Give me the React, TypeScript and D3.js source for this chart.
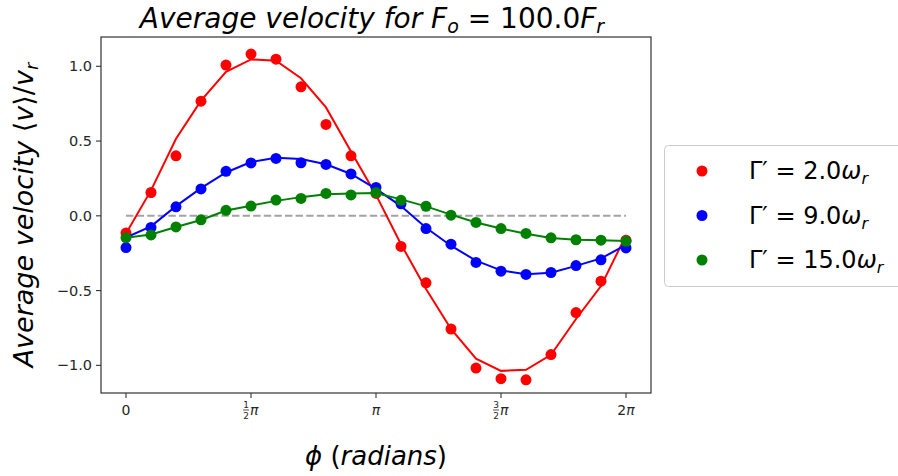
import React from "react";
import * as d3 from "d3";

const phiOverPi = [0, 0.1, 0.2, 0.3, 0.4, 0.5, 0.6, 0.7, 0.8, 0.9, 1.0, 1.1, 1.2, 1.3, 1.4, 1.5, 1.6, 1.7, 1.8, 1.9, 2.0];

const redPoints = [-0.115, 0.156, 0.401, 0.767, 1.008, 1.082, 1.048, 0.863, 0.611, 0.401, 0.15, -0.205, -0.448, -0.757, -1.018, -1.089, -1.097, -0.928, -0.647, -0.437, -0.163];
const redLine = [-0.118, 0.17, 0.515, 0.77, 0.963, 1.046, 1.037, 0.92, 0.725, 0.43, 0.14, -0.19, -0.49, -0.757, -0.955, -1.037, -1.03, -0.93, -0.69, -0.47, -0.13];

const bluePoints = [-0.212, -0.078, 0.06, 0.18, 0.298, 0.354, 0.384, 0.355, 0.344, 0.28, 0.19, 0.08, -0.085, -0.19, -0.312, -0.37, -0.392, -0.379, -0.333, -0.294, -0.215];
const blueLine = [-0.145, -0.07, 0.065, 0.185, 0.29, 0.36, 0.388, 0.38, 0.345, 0.28, 0.18, 0.065, -0.08, -0.2, -0.3, -0.365, -0.39, -0.38, -0.335, -0.285, -0.195];

const greenPoints = [-0.146, -0.128, -0.074, -0.027, 0.037, 0.065, 0.105, 0.116, 0.15, 0.14, 0.156, 0.104, 0.064, 0.004, -0.044, -0.085, -0.118, -0.147, -0.16, -0.163, -0.17];
const greenLine = [-0.147, -0.125, -0.075, -0.028, 0.035, 0.068, 0.1, 0.125, 0.145, 0.15, 0.152, 0.11, 0.063, 0.008, -0.045, -0.085, -0.12, -0.148, -0.16, -0.163, -0.168];

const seriesNames = ["2.0", "9.0", "15.0"];
const seriesColors = ["#ff0000", "#0000ff", "#008000"];

const yTicks = [-1.0, -0.5, 0.0, 0.5, 1.0];
const xTicksOverPi = [0, 0.5, 1, 1.5, 2];

const FONT = "'DejaVu Sans', sans-serif";

export default function App() {
  const left = 101, right = 651, top = 37, bottom = 393;
  const x = d3.scaleLinear().domain([-0.1 * Math.PI, 2.1 * Math.PI]).range([left, right]);
  const y = d3.scaleLinear().domain([-1.185, 1.196]).range([bottom, top]);
  const phi = phiOverPi.map((v) => v * Math.PI);

  const series = [
    { pts: redPoints, line: redLine },
    { pts: bluePoints, line: blueLine },
    { pts: greenPoints, line: greenLine },
  ];

  const lineGen = d3
    .line<number>()
    .x((_, i) => x(phi[i]))
    .y((d) => y(d));

  const xTickLabel = (v: number, xp: number) => {
    const ty = 415;
    if (v === 0)
      return (
        <text x={xp} y={ty} textAnchor="middle" fontSize={14} fill="#262626" fontFamily={FONT}>0</text>
      );
    if (v === 1)
      return (
        <text x={xp} y={ty} textAnchor="middle" fontSize={14} fill="#262626" fontFamily={FONT} fontStyle="italic">π</text>
      );
    if (v === 2)
      return (
        <text x={xp} y={ty} textAnchor="middle" fontSize={14} fill="#262626" fontFamily={FONT}>
          2<tspan fontStyle="italic">π</tspan>
        </text>
      );
    const num = v === 0.5 ? "1" : "3";
    return (
      <g fill="#262626" fontFamily={FONT}>
        <text x={xp - 5} y={408} textAnchor="middle" fontSize={9}>{num}</text>
        <line x1={xp - 8} x2={xp - 2} y1={410} y2={410} stroke="#262626" strokeWidth={0.8} />
        <text x={xp - 5} y={419} textAnchor="middle" fontSize={9}>2</text>
        <text x={xp - 1} y={ty} fontSize={14} fontStyle="italic">π</text>
      </g>
    );
  };

  return (
    <div style={{ position: "fixed", left: 0, top: 0, width: 898, height: 476, background: "#fff" }}>
      <svg width={898} height={476} style={{ display: "block" }}>
        <rect width={898} height={476} fill="#fff" />
        {/* title */}
        <text x={372} y={28} textAnchor="middle" fontSize={28} fontFamily={FONT} fill="#000">
          <tspan fontStyle="italic">Average velocity for F</tspan>
          <tspan fontStyle="italic" fontSize={19} dy={5}>o</tspan>
          <tspan dy={-5}> = 100.0</tspan>
          <tspan fontStyle="italic">F</tspan>
          <tspan fontStyle="italic" fontSize={19} dy={5}>r</tspan>
        </text>

        {/* zero dashed line */}
        <line x1={x(0)} x2={x(2 * Math.PI)} y1={y(0)} y2={y(0)} stroke="#a3a3a3" strokeWidth={2} strokeDasharray="7.4,3.2" />

        {/* series */}
        {series.map((s, si) => (
          <g key={si}>
            <path d={lineGen(s.line) || ""} fill="none" stroke={seriesColors[si]} strokeWidth={2} />
            {s.pts.map((v, i) => (
              <circle key={i} cx={x(phi[i])} cy={y(v)} r={5.5} fill={seriesColors[si]} />
            ))}
          </g>
        ))}

        {/* frame */}
        <rect x={left} y={top} width={right - left} height={bottom - top} fill="none" stroke="#333" strokeWidth={1.2} />

        {/* y ticks */}
        {yTicks.map((t) => (
          <g key={t}>
            <line x1={left - 5} x2={left} y1={y(t)} y2={y(t)} stroke="#333" strokeWidth={1.1} />
            <text x={left - 9} y={y(t) + 5} textAnchor="end" fontSize={14.5} fill="#262626" fontFamily={FONT}>
              {t < 0 ? "\u2212" + Math.abs(t).toFixed(1) : t.toFixed(1)}
            </text>
          </g>
        ))}

        {/* x ticks */}
        {xTicksOverPi.map((t) => {
          const xp = x(t * Math.PI);
          return (
            <g key={t}>
              <line x1={xp} x2={xp} y1={bottom} y2={bottom + 5} stroke="#333" strokeWidth={1.1} />
              {xTickLabel(t, xp)}
            </g>
          );
        })}

        {/* axis labels */}
        <text x={376} y={465} textAnchor="middle" fontSize={26} fontFamily={FONT} fill="#000">
          <tspan fontStyle="italic">ϕ</tspan>
          <tspan> (</tspan>
          <tspan fontStyle="italic">radians</tspan>
          <tspan>)</tspan>
        </text>
        <text transform={`translate(33,${(top + bottom) / 2}) rotate(-90)`} textAnchor="middle" fontSize={27} fontFamily={FONT} fill="#000">
          <tspan fontStyle="italic">Average velocity </tspan>
          <tspan>⟨</tspan>
          <tspan fontStyle="italic">v</tspan>
          <tspan>⟩/</tspan>
          <tspan fontStyle="italic">v</tspan>
          <tspan fontStyle="italic" fontSize={18} dy={5}>r</tspan>
        </text>

        {/* legend */}
        <rect x={664.5} y={145.5} width={260} height={141} rx={4} fill="#fff" stroke="#cccccc" strokeWidth={1} />
        {seriesNames.map((n, i) => (
          <g key={n}>
            <circle cx={702} cy={171 + i * 44.5} r={5.5} fill={seriesColors[i]} />
            <text x={749} y={179 + i * 44.5} fontSize={24} fontFamily={FONT} fill="#000">
              <tspan>Γ′ = {n}</tspan>
              <tspan fontStyle="italic">ω</tspan>
              <tspan fontStyle="italic" fontSize={16} dy={5}>r</tspan>
            </text>
          </g>
        ))}
      </svg>
    </div>
  );
}
